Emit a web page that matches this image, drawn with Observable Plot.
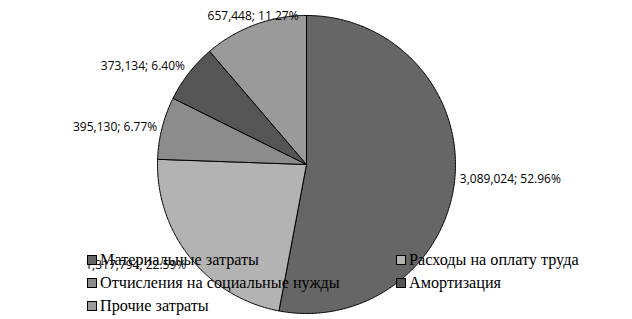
<!DOCTYPE html>
<html>
<head>
<meta charset="utf-8">
<script src="https://cdn.jsdelivr.net/npm/d3@7"></script>
<script src="https://cdn.jsdelivr.net/npm/@observablehq/plot@0.6"></script>
<style>
  html, body { margin: 0; padding: 0; background: #fff; }
  #wrap { position: relative; width: 632px; height: 319px; overflow: hidden; }
  #legend { position: absolute; left: 0; top: 0; width: 632px; height: 319px; pointer-events: none;
    font-family: "Liberation Serif", "Times New Roman", serif; font-size: 16.2px; color: #000; }
  .item { position: absolute; white-space: nowrap; line-height: 16px; }
  .sw { display: inline-block; width: 8px; height: 8px; border: 1px solid #000; margin-right: 3px; vertical-align: 0px; }
</style>
</head>
<body>
<div id="wrap"><div id="chart"></div><div id="legend"></div></div>
<script>
const categories = ["Материальные затраты", "Расходы на оплату труда", "Отчисления на социальные нужды", "Амортизация", "Прочие затраты"];
const values = [3089024, 1317794, 395130, 373134, 657448];
const percents = ["52.96%", "22.59%", "6.77%", "6.40%", "11.27%"];
const colors = ["#666666", "#b3b3b3", "#8c8c8c", "#555555", "#9a9a9a"];

const pie = d3.pie().sort(null).value(d => d)(values);

// polygon points for each slice (angles clockwise from 12 o'clock)
const slicePts = [];
pie.forEach((p, i) => {
  const n = Math.max(2, Math.ceil((p.endAngle - p.startAngle) / 0.01));
  slicePts.push({cat: categories[i], x: 0, y: 0});
  for (let k = 0; k <= n; k++) {
    const a = p.startAngle + (p.endAngle - p.startAngle) * k / n;
    slicePts.push({cat: categories[i], x: Math.sin(a), y: Math.cos(a)});
  }
  slicePts.push({cat: categories[i], x: 0, y: 0});
});

const R = 149; // pixel radius
const fmt = d3.format(",");
const labelMarks = pie.map((p, i) => {
  const a = (p.startAngle + p.endAngle) / 2;
  const s = Math.sin(a), c = Math.cos(a);
  const anchor = s > 0.4 ? "start" : s < -0.4 ? "end" : "middle";
  const line = c < -0.3 ? "top" : c > 0.3 ? "bottom" : "middle";
  const off = 5 / R;
  return Plot.text([{x: s * (1 + off), y: c * (1 + off), t: fmt(values[i]) + "; " + percents[i]}], {
    x: "x", y: "y", text: "t", textAnchor: anchor, lineAnchor: line,
    fontFamily: "Open Sans", fontSize: 12, fill: "#000"
  });
});

const chart = Plot.plot({
  width: 632, height: 319,
  marginLeft: 157, marginRight: 632 - 157 - 2 * R,
  marginTop: 15, marginBottom: 319 - 15 - 2 * R,
  x: {domain: [-1, 1], axis: null},
  y: {domain: [-1, 1], axis: null},
  color: {domain: categories, range: colors},
  style: {background: "#fff", overflow: "visible"},
  marks: [
    Plot.line(slicePts, {x: "x", y: "y", z: "cat", fill: "cat", stroke: "#000", strokeWidth: 1, curve: "linear"}),
    ...labelMarks
  ]
});
document.getElementById("chart").appendChild(chart);

// legend
const legendPos = [[87, 252], [396, 252], [87, 275], [396, 275], [87, 298]];
const lg = document.getElementById("legend");
categories.forEach((c, i) => {
  const div = document.createElement("div");
  div.className = "item";
  div.style.left = legendPos[i][0] + "px";
  div.style.top = legendPos[i][1] + "px";
  div.innerHTML = `<span class="sw" style="background:${colors[i]}"></span>${c}`;
  lg.appendChild(div);
});
</script>
</body>
</html>
